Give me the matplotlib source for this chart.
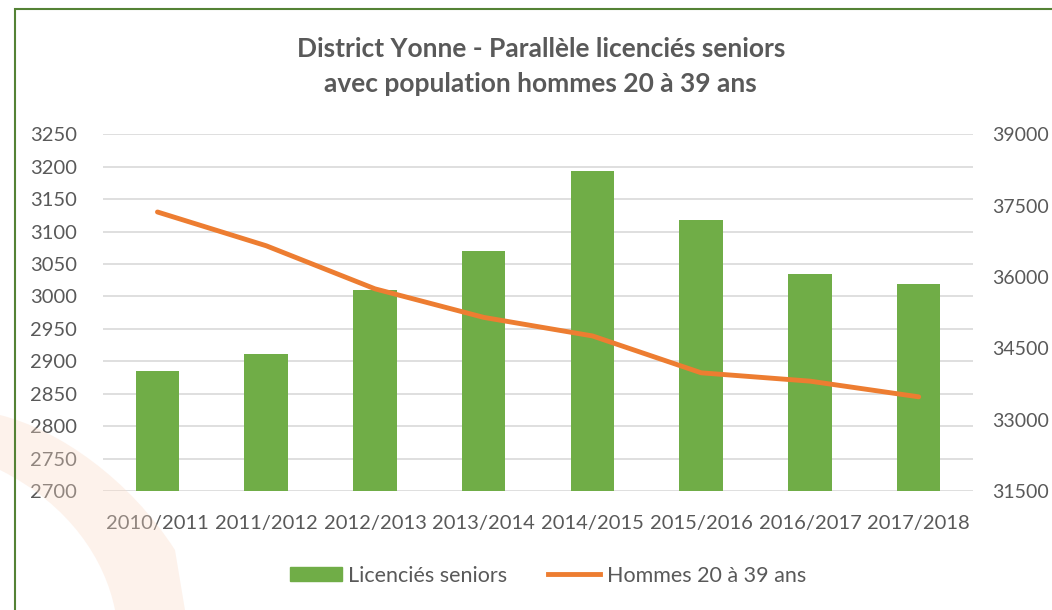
import matplotlib
matplotlib.use('Agg')
import matplotlib.pyplot as plt
from matplotlib.patches import Rectangle, Patch, PathPatch
from matplotlib.path import Path
from matplotlib.lines import Line2D

# -----------------------------------
# Data
# -----------------------------------
saisons = ['2010/2011', '2011/2012', '2012/2013', '2013/2014',
           '2014/2015', '2015/2016', '2016/2017', '2017/2018']
licencies = [2885, 2911, 3010, 3070, 3194, 3118, 3035, 3019]
hommes = [37365, 36655, 35750, 35150, 34760, 33985, 33810, 33480]

grey = '#595959'
green = '#70AD47'
orange = '#ED7D31'

plt.rcParams['font.family'] = ['Lato', 'DejaVu Sans']

W, H = 1052, 610
fig = plt.figure(figsize=(W / 100, H / 100), dpi=100)

def px(xp, yp):
    return (xp / W, 1 - yp / H)

# filigrane orange en bas a gauche
verts = [px(0, 415), px(60, 430), px(130, 480), px(175, 550), px(185, 610),
         px(115, 610), px(105, 560), px(70, 505), px(0, 470), px(0, 415)]
codes = [Path.MOVETO, Path.CURVE4, Path.CURVE4, Path.CURVE4, Path.LINETO,
         Path.LINETO, Path.CURVE4, Path.CURVE4, Path.CURVE4, Path.CLOSEPOLY]
fig.patches.append(PathPatch(Path(verts, codes), transform=fig.transFigure,
                             facecolor='#FADBC8', edgecolor='none', alpha=0.35,
                             zorder=0))

ax = fig.add_axes([0.098, 0.195, 0.827, 0.585])
ax2 = ax.twinx()
ax.patch.set_alpha(0)
ax2.patch.set_alpha(0)

x = list(range(len(saisons)))
ax.bar(x, licencies, width=0.4, color=green, zorder=2)
ax2.plot(x, hommes, color=orange, lw=3.5, solid_capstyle='round', zorder=3)

ax.set_xlim(-0.5, len(saisons) - 0.5)
ax.set_ylim(2700, 3250)
ax.set_yticks(range(2700, 3251, 50))
ax2.set_ylim(31500, 39000)
ax2.set_yticks(range(31500, 39001, 1500))

ax.set_xticks(x)
ax.set_xticklabels(saisons)
ax.grid(axis='y', color='#D9D9D9', lw=1.2, zorder=0)
ax.set_axisbelow(True)

for a in (ax, ax2):
    for s in a.spines.values():
        s.set_visible(False)
    a.tick_params(length=0, labelsize=14.5, colors=grey)
ax.tick_params(axis='y', pad=19)
ax.tick_params(axis='x', pad=17)
ax2.tick_params(axis='y', pad=14, labelsize=14)

# titre
fig.text(0.514, 0.920, 'District Yonne - Parallèle licenciés seniors',
         ha='center', va='center', fontsize=19, fontweight='bold', color=grey)
fig.text(0.514, 0.863, 'avec population hommes 20 à 39 ans',
         ha='center', va='center', fontsize=19, fontweight='bold', color=grey)

# legende
handles = [Patch(color=green, label='Licenciés seniors'),
           Line2D([0], [0], color=orange, lw=3.5, label='Hommes 20 à 39 ans')]
fig.legend(handles=handles, loc='center', bbox_to_anchor=(0.521, 0.056), ncol=2,
           frameon=False, fontsize=15.5, labelcolor=grey, handlelength=2.4,
           handleheight=0.65, handletextpad=0.3, columnspacing=1.9)

# cadre vert
fig.patches.append(Rectangle((15 / W, -0.1), 1.2, 1.1 - 9 / H,
                             transform=fig.transFigure, fill=False,
                             edgecolor='#548235', lw=1.5))

fig.savefig('out.png', dpi=100)
